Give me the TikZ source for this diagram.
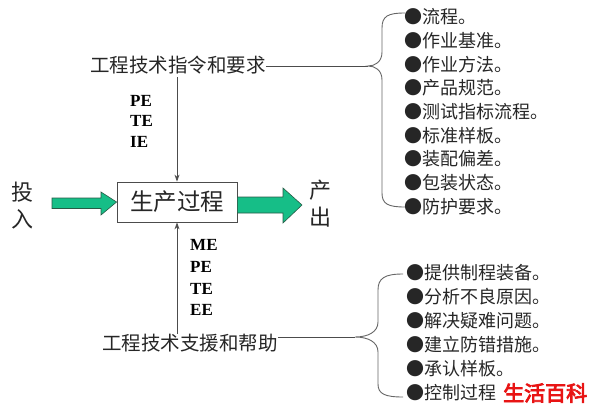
\documentclass[tikz,border=0pt]{standalone}
\usepackage{fontspec}
\setmainfont{Liberation Serif}
\newfontfamily\cjk{Noto Sans CJK SC}
\newfontfamily\cjkwm[FakeBold=4]{Noto Sans CJK SC}
\usetikzlibrary{arrows.meta}
\definecolor{arrowgreen}{RGB}{22,190,135}
\definecolor{arrowedge}{RGB}{40,90,70}
\definecolor{wmred}{RGB}{232,20,20}
\begin{document}
\begin{tikzpicture}[x=1pt,y=-1pt,
  lbl/.style={font=\cjk\fontsize{19.5}{20}\selectfont, inner sep=0pt, text=black!85},
  item/.style={font=\cjk\fontsize{18}{20}\selectfont, inner sep=0pt, anchor=west, text=black!85},
  side/.style={font=\cjk\fontsize{22}{27}\selectfont, inner sep=0pt, align=center, text=black!85},
  eng/.style={font=\bfseries\fontsize{17}{20}\selectfont, inner sep=0pt, anchor=base west},
  conn/.style={draw=black!70, line width=0.8pt},
  brace/.style={draw=black!60, line width=0.9pt},
  fat/.style={fill=arrowgreen, draw=arrowedge, line width=0.6pt},
  procbox/.style={draw=black!70, line width=0.8pt, minimum width=120pt, minimum height=40pt, inner sep=0pt, font=\cjk\fontsize{23.5}{24}\selectfont, text=black!85},
  wm/.style={font=\cjkwm\fontsize{21}{22}\selectfont, text=wmred, inner sep=0pt, anchor=west}
]
\useasboundingbox (0,0) rectangle (594,410);

% central process
\node[procbox] (proc) at (177,202) {生产过程};

% side labels
\node[side] (in) at (23,206) {投\\入};
\node[side] (out) at (320,204) {产\\出};

% fat arrows
\draw[fat] (52,198) -- (101,198) -- (101,192) -- (proc.west) -- (101,215) -- (101,208.5) -- (52,208.5) -- cycle;
\draw[fat] (proc.east |- 0,197) -- (283,197) -- (283,188) -- (302,205) -- (283,223) -- (283,213) -- (proc.east |- 0,213) -- cycle;

% top instruction
\node[lbl] (top) at (178,65) {工程技术指令和要求};
\draw[conn,-{Stealth[length=7pt,width=5pt]}] ([yshift=-3pt]top.south -| proc.north) -- (proc.north);
\node[eng] (pe1) at (130,106) {PE};
\node[eng] (te1) at (130,126) {TE};
\node[eng] (ie1) at (130,147) {IE};

% bottom support
\node[lbl] (bot) at (190,343) {工程技术支援和帮助};
\draw[conn,-{Stealth[length=7pt,width=5pt]}] (bot.north -| proc.south) -- (proc.south);
\node[eng] (me2) at (190,250) {ME};
\node[eng] (pe2) at (190,272) {PE};
\node[eng] (te2) at (190,294) {TE};
\node[eng] (ee2) at (190,315) {EE};

% connectors to braces
\coordinate (tb) at (368,66);
\coordinate (bb) at (355,337);
\draw[conn] (top.east |- tb) -- (tb);
\draw[conn] (bot.east |- bb) -- (bb);

% braces
\draw[brace] (405,13) .. controls (388,13) and (382,16) .. (382,28) -- (382,52)
  .. controls (382,62) and (375,66) .. (tb)
  .. controls (375,66) and (382,70) .. (382,80) -- (382,193)
  .. controls (382,204) and (388,207) .. (405,207);
\draw[brace] (403,274) .. controls (385,274) and (378,278) .. (378,290) -- (378,322)
  .. controls (378,332) and (368,337) .. (bb)
  .. controls (368,337) and (378,342) .. (378,352) -- (378,384)
  .. controls (378,394) and (385,397) .. (403,397);

% top list
\node[item] (t1) at (404,17) {●流程。};
\node[item] (t2) at (404,41) {●作业基准。};
\node[item] (t3) at (404,65) {●作业方法。};
\node[item] (t4) at (404,88) {●产品规范。};
\node[item] (t5) at (404,112) {●测试指标流程。};
\node[item] (t6) at (404,136) {●标准样板。};
\node[item] (t7) at (404,159) {●装配偏差。};
\node[item] (t8) at (404,183) {●包装状态。};
\node[item] (t9) at (404,207) {●防护要求。};

% bottom list
\node[item] (b1) at (406,273) {●提供制程装备。};
\node[item] (b2) at (406,297) {●分析不良原因。};
\node[item] (b3) at (406,321) {●解决疑难问题。};
\node[item] (b4) at (406,345) {●建立防错措施。};
\node[item] (b5) at (406,369) {●承认样板。};
\node[item] (b6) at (406,393) {●控制过程};
\node[wm] (wmk) at (503,393) {生活百科};
\end{tikzpicture}
\end{document}
